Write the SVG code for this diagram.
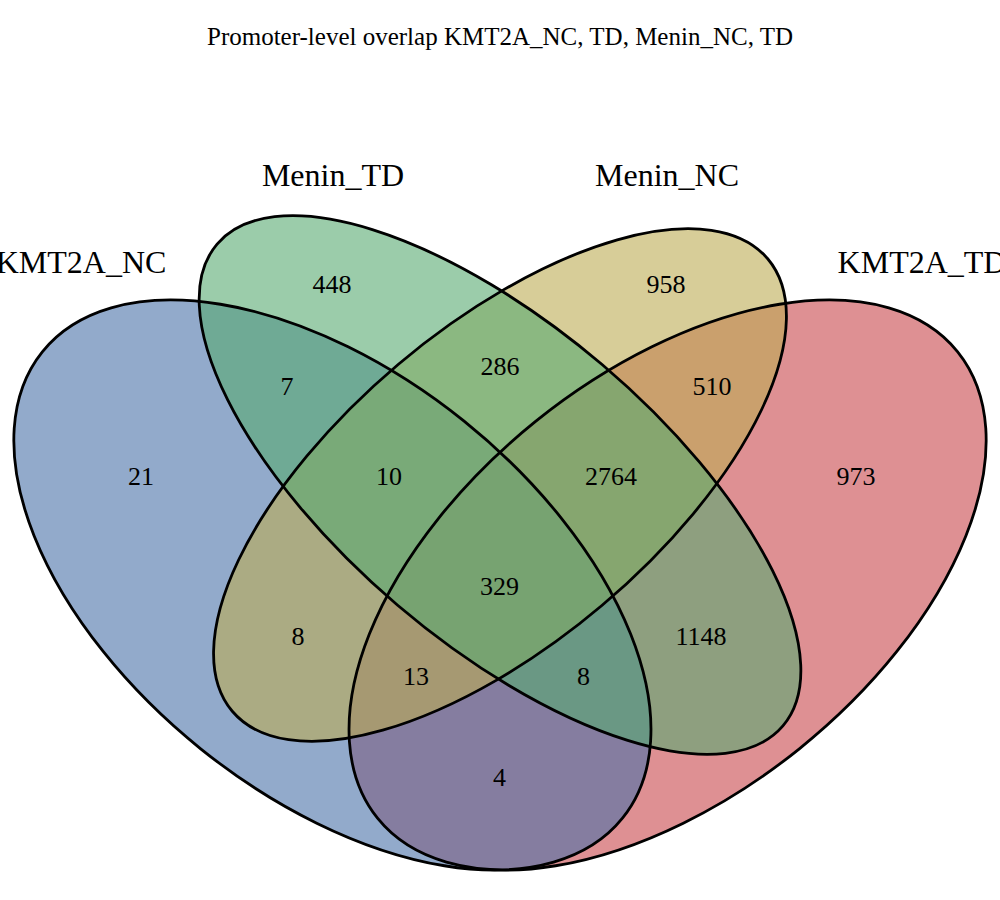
<svg xmlns="http://www.w3.org/2000/svg" xmlns:xlink="http://www.w3.org/1999/xlink" width="1000" height="900" viewBox="0 0 1000 900">
<style>
  text { font-family: "Liberation Serif", "Times New Roman", serif; fill: #000; text-anchor: middle; }
  .title { font-size: 25px; }
  .cat { font-size: 32px; }
  .num { font-size: 26px; }
  .fill { stroke: none; fill-opacity: 0.6; }
  .outline { fill: none; stroke: #000; stroke-width: 2.8; }
</style>
<defs>
  <ellipse id="e-red" cx="667.6" cy="585" rx="372.2" ry="210.2" transform="rotate(-38.8 667.6 585)"/>
  <ellipse id="e-blue" cx="332.4" cy="585" rx="372.2" ry="210.2" transform="rotate(38.8 332.4 585)"/>
  <ellipse id="e-yellow" cx="500" cy="485" rx="350.5" ry="157.8" transform="rotate(-40.2 500 485)"/>
  <ellipse id="e-green" cx="500" cy="485" rx="371.6" ry="157.9" transform="rotate(40.42 500 485)"/>
</defs>
<rect width="1000" height="900" fill="#fff"/>
<text class="title" x="500" y="45">Promoter-level overlap KMT2A_NC, TD, Menin_NC, TD</text>
<g id="KMT2A_TD">
  <use xlink:href="#e-red" class="fill" fill="#C8464B"/>
  <text class="cat" x="922" y="273">KMT2A_TD</text>
</g>
<g id="KMT2A_NC">
  <use xlink:href="#e-blue" class="fill" fill="#4971A8"/>
  <text class="cat" x="81" y="273">KMT2A_NC</text>
</g>
<g id="Menin_NC">
  <use xlink:href="#e-yellow" class="fill" fill="#BCAC53"/>
  <text class="cat" x="667" y="186">Menin_NC</text>
</g>
<g id="Menin_TD">
  <use xlink:href="#e-green" class="fill" fill="#58AA71"/>
  <text class="cat" x="333" y="186">Menin_TD</text>
</g>
<g id="outlines">
  <use xlink:href="#e-red" class="outline"/>
  <use xlink:href="#e-blue" class="outline"/>
  <use xlink:href="#e-yellow" class="outline"/>
  <use xlink:href="#e-green" class="outline"/>
</g>
<g id="counts">
  <text class="num" x="332" y="293">448</text>
  <text class="num" x="666" y="293">958</text>
  <text class="num" x="287" y="395">7</text>
  <text class="num" x="500" y="375">286</text>
  <text class="num" x="712" y="395">510</text>
  <text class="num" x="141" y="485">21</text>
  <text class="num" x="389" y="485">10</text>
  <text class="num" x="611" y="485">2764</text>
  <text class="num" x="856" y="485">973</text>
  <text class="num" x="499.5" y="595">329</text>
  <text class="num" x="298" y="645">8</text>
  <text class="num" x="701" y="645">1148</text>
  <text class="num" x="416" y="685">13</text>
  <text class="num" x="583.5" y="685">8</text>
  <text class="num" x="499.5" y="786">4</text>
</g>
</svg>
